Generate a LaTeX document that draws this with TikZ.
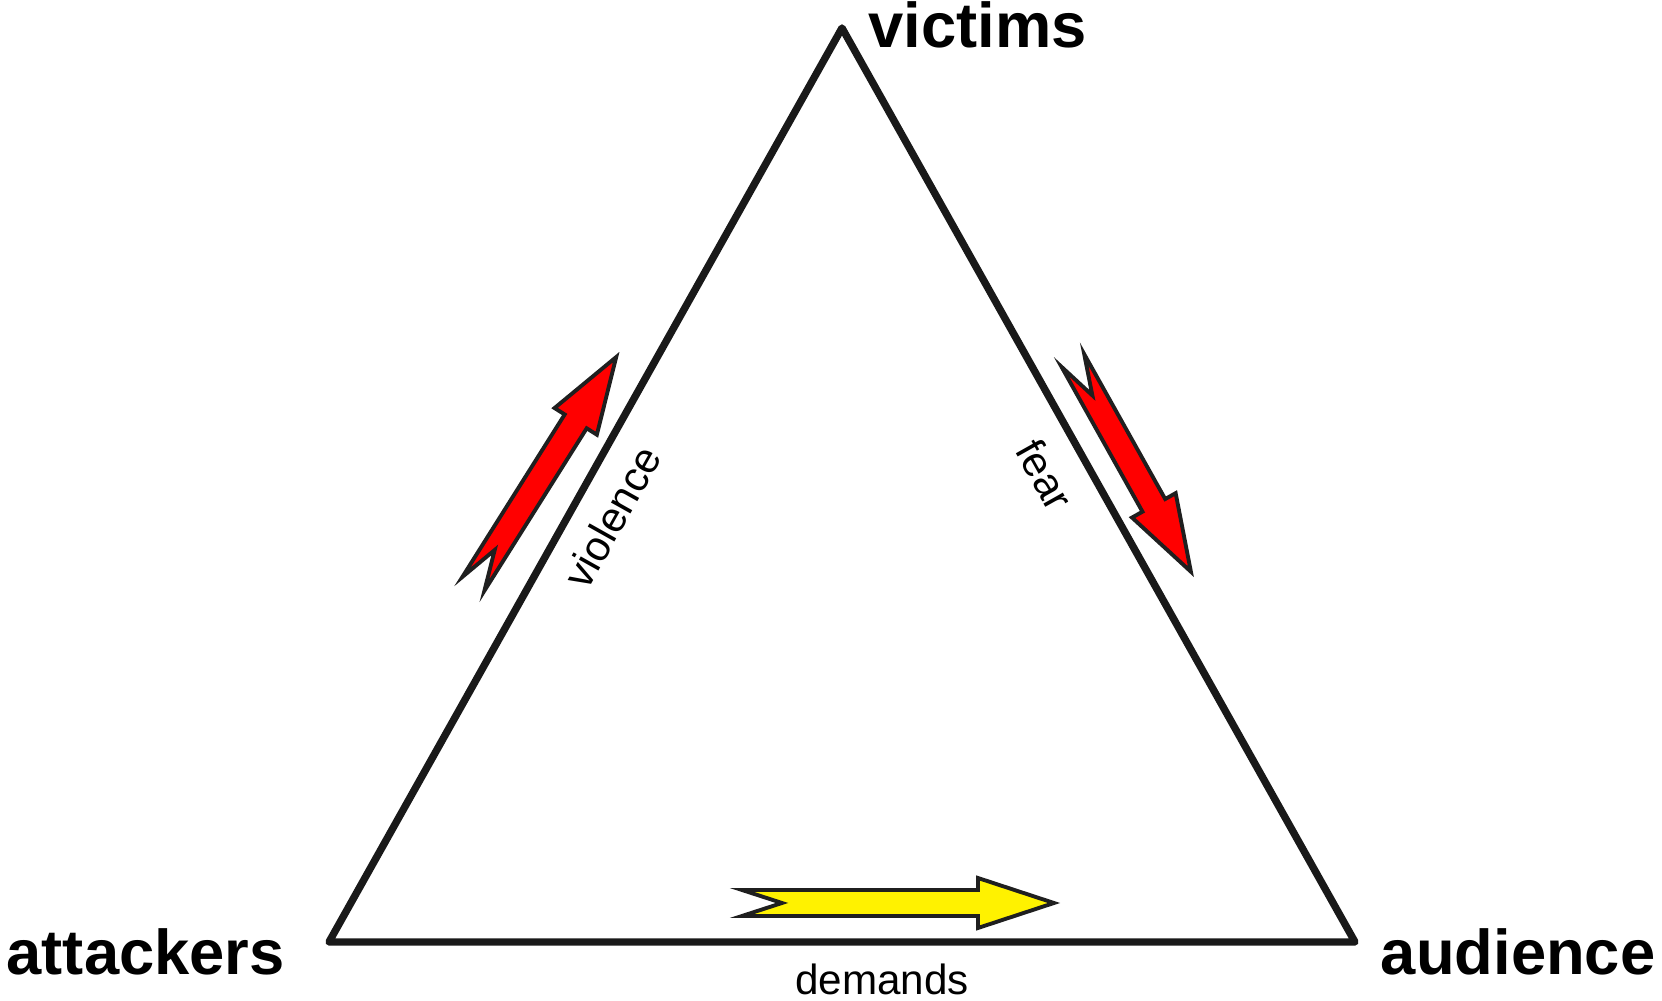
\documentclass[tikz,border=0pt]{standalone}
\usepackage{fontspec}
\setmainfont{Liberation Sans}

\newcommand*{\shaftw}{13}
\newcommand*{\headw}{25}
\newcommand*{\headl}{78}
\newcommand*{\notch}{52}

% block arrow: tail, angle, length, fill colour
\newcommand*{\blockarrow}[4]{%
	\begin{scope}[shift={(#1)}, rotate=#2]
		\filldraw[blockline, fill=#4] (12,\shaftw) -- (#3-\headl,\shaftw) -- (#3-\headl,\headw)
			-- (#3-2,0) -- (#3-\headl,-\headw) -- (#3-\headl,-\shaftw) -- (12,-\shaftw) -- (\notch,0) -- cycle;
	\end{scope}}

\begin{document}
\begin{tikzpicture}
[
	x=0.01cm, y=-0.01cm,
	edge/.style={line width=2.1pt, draw=black!90, line join=round, line cap=round},
	blockline/.style={line width=1.1pt, draw=black!88, line join=miter},
	corner/.style={font=\bfseries\fontsize{18}{20}\selectfont, inner sep=0pt},
	edgetext/.style={font=\fontsize{12}{14}\selectfont, inner sep=0pt}
]
	\useasboundingbox (0,0) rectangle (1662,1001);

	% corners
	\coordinate (vic) at (842,28);
	\coordinate (att) at (329,942);
	\coordinate (aud) at (1355,942);

	% triangle
	\draw[edge] (att) -- (vic) -- (aud) -- cycle;

	% labels
	\node[corner, anchor=base west] (victims) at (868,48) {victims};
	\node[corner, anchor=base west] (attackers) at (6,975) {attackers};
	\node[corner, anchor=base east] (audience) at (1656,975) {audience};

	\node[edgetext, rotate=60.7] (violence) at (612,517) {violence};
	\node[edgetext, rotate=-60.7] (fear) at (1045,475) {fear};
	\node[edgetext, anchor=base] (demands) at (882,995) {demands};

	% arrows
	\blockarrow{467,594}{57.8}{282}{red}
	\blockarrow{1067,350}{-60.8}{256}{red}
	\blockarrow{730,903}{0}{326}{yellow}

\end{tikzpicture}
\end{document}
